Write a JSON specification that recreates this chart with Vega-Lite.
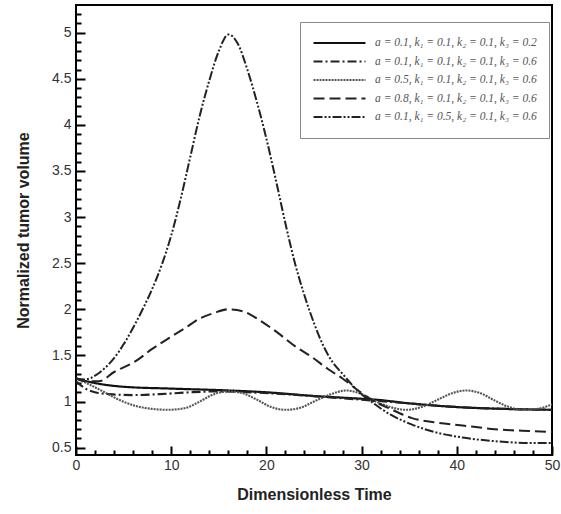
{
  "$schema": "https://vega.github.io/schema/vega-lite/v6.json",
  "width": 476,
  "height": 450,
  "autosize": {"type": "none"},
  "padding": {"left": 76, "top": 5, "right": 9, "bottom": 59},
  "background": "white",
  "config": {
    "view": {"stroke": "black", "strokeWidth": 2},
    "font": "Liberation Sans"
  },
  "data": {"values": [
    {"s": "A", "t": 0, "v": 1.25}, {"s": "A", "t": 2, "v": 1.2}, {"s": "A", "t": 5, "v": 1.16}, {"s": "A", "t": 10, "v": 1.14},
    {"s": "A", "t": 16, "v": 1.12}, {"s": "A", "t": 20, "v": 1.1}, {"s": "A", "t": 25, "v": 1.06}, {"s": "A", "t": 30, "v": 1.03},
    {"s": "A", "t": 31.5, "v": 1.02}, {"s": "A", "t": 35, "v": 0.98}, {"s": "A", "t": 40, "v": 0.94}, {"s": "A", "t": 45, "v": 0.92},
    {"s": "A", "t": 50, "v": 0.91},
    {"s": "B", "t": 0, "v": 1.22}, {"s": "B", "t": 1, "v": 1.14}, {"s": "B", "t": 2, "v": 1.1}, {"s": "B", "t": 3.5, "v": 1.08},
    {"s": "B", "t": 6, "v": 1.07}, {"s": "B", "t": 8.8, "v": 1.08}, {"s": "B", "t": 12, "v": 1.1}, {"s": "B", "t": 15, "v": 1.11},
    {"s": "B", "t": 18, "v": 1.1}, {"s": "B", "t": 22, "v": 1.08}, {"s": "B", "t": 26, "v": 1.05}, {"s": "B", "t": 30, "v": 1.02},
    {"s": "B", "t": 35, "v": 0.98}, {"s": "B", "t": 40, "v": 0.94}, {"s": "B", "t": 45, "v": 0.92}, {"s": "B", "t": 50, "v": 0.91},
    {"s": "C", "t": 0, "v": 1.25}, {"s": "C", "t": 1.5, "v": 1.18}, {"s": "C", "t": 3, "v": 1.1}, {"s": "C", "t": 4.5, "v": 1.02},
    {"s": "C", "t": 6, "v": 0.96}, {"s": "C", "t": 8, "v": 0.92}, {"s": "C", "t": 9.7, "v": 0.91}, {"s": "C", "t": 11.5, "v": 0.93},
    {"s": "C", "t": 13, "v": 1.0}, {"s": "C", "t": 14.5, "v": 1.08}, {"s": "C", "t": 16, "v": 1.11}, {"s": "C", "t": 17.5, "v": 1.09},
    {"s": "C", "t": 19, "v": 1.02}, {"s": "C", "t": 20.5, "v": 0.94}, {"s": "C", "t": 22, "v": 0.91}, {"s": "C", "t": 23.5, "v": 0.93},
    {"s": "C", "t": 25, "v": 1.0}, {"s": "C", "t": 26.8, "v": 1.08}, {"s": "C", "t": 28.4, "v": 1.12}, {"s": "C", "t": 30, "v": 1.08},
    {"s": "C", "t": 31.5, "v": 1.0}, {"s": "C", "t": 33, "v": 0.94}, {"s": "C", "t": 34.7, "v": 0.91}, {"s": "C", "t": 36.3, "v": 0.94},
    {"s": "C", "t": 38, "v": 1.02}, {"s": "C", "t": 39.5, "v": 1.09}, {"s": "C", "t": 41, "v": 1.12}, {"s": "C", "t": 42.5, "v": 1.09},
    {"s": "C", "t": 44, "v": 1.01}, {"s": "C", "t": 45.5, "v": 0.94}, {"s": "C", "t": 47, "v": 0.91}, {"s": "C", "t": 48.5, "v": 0.92},
    {"s": "C", "t": 50, "v": 0.97},
    {"s": "D", "t": 0, "v": 1.25}, {"s": "D", "t": 1, "v": 1.22}, {"s": "D", "t": 2.4, "v": 1.22}, {"s": "D", "t": 4, "v": 1.32},
    {"s": "D", "t": 6.3, "v": 1.44}, {"s": "D", "t": 8, "v": 1.57}, {"s": "D", "t": 9.8, "v": 1.69}, {"s": "D", "t": 11.5, "v": 1.8},
    {"s": "D", "t": 13, "v": 1.9}, {"s": "D", "t": 14.5, "v": 1.96}, {"s": "D", "t": 16, "v": 2.0}, {"s": "D", "t": 17.5, "v": 1.98},
    {"s": "D", "t": 19, "v": 1.9}, {"s": "D", "t": 21, "v": 1.76}, {"s": "D", "t": 23, "v": 1.6}, {"s": "D", "t": 24.8, "v": 1.48},
    {"s": "D", "t": 26.5, "v": 1.35}, {"s": "D", "t": 28, "v": 1.25}, {"s": "D", "t": 29.5, "v": 1.13}, {"s": "D", "t": 31, "v": 1.02},
    {"s": "D", "t": 33, "v": 0.92}, {"s": "D", "t": 35.3, "v": 0.82}, {"s": "D", "t": 38, "v": 0.77}, {"s": "D", "t": 40.6, "v": 0.74},
    {"s": "D", "t": 44, "v": 0.7}, {"s": "D", "t": 47.6, "v": 0.68}, {"s": "D", "t": 50, "v": 0.67},
    {"s": "E", "t": 0, "v": 1.25}, {"s": "E", "t": 1, "v": 1.24}, {"s": "E", "t": 2, "v": 1.28}, {"s": "E", "t": 3, "v": 1.36},
    {"s": "E", "t": 4, "v": 1.47}, {"s": "E", "t": 5, "v": 1.62}, {"s": "E", "t": 6, "v": 1.8}, {"s": "E", "t": 7, "v": 2.0},
    {"s": "E", "t": 8, "v": 2.22}, {"s": "E", "t": 9, "v": 2.48}, {"s": "E", "t": 10, "v": 2.8}, {"s": "E", "t": 11, "v": 3.2},
    {"s": "E", "t": 12, "v": 3.65}, {"s": "E", "t": 13, "v": 4.1}, {"s": "E", "t": 14, "v": 4.48}, {"s": "E", "t": 15, "v": 4.8},
    {"s": "E", "t": 16, "v": 4.98}, {"s": "E", "t": 17, "v": 4.88}, {"s": "E", "t": 18, "v": 4.6}, {"s": "E", "t": 19, "v": 4.25},
    {"s": "E", "t": 20, "v": 3.85}, {"s": "E", "t": 21, "v": 3.4}, {"s": "E", "t": 22, "v": 2.93}, {"s": "E", "t": 23, "v": 2.5},
    {"s": "E", "t": 24, "v": 2.15}, {"s": "E", "t": 25, "v": 1.85}, {"s": "E", "t": 26, "v": 1.6}, {"s": "E", "t": 27, "v": 1.42},
    {"s": "E", "t": 28, "v": 1.3}, {"s": "E", "t": 29, "v": 1.18}, {"s": "E", "t": 30, "v": 1.08}, {"s": "E", "t": 31, "v": 1.0},
    {"s": "E", "t": 33, "v": 0.86}, {"s": "E", "t": 35.3, "v": 0.75}, {"s": "E", "t": 38, "v": 0.66}, {"s": "E", "t": 40.6, "v": 0.61},
    {"s": "E", "t": 44, "v": 0.57}, {"s": "E", "t": 47.6, "v": 0.55}, {"s": "E", "t": 50, "v": 0.55}
  ]},
  "mark": {"type": "line", "interpolate": "monotone", "clip": true},
  "encoding": {
    "x": {
      "field": "t", "type": "quantitative",
      "scale": {"domain": [0, 50], "nice": false, "zero": false},
      "axis": {
        "title": "Dimensionless Time",
        "titleFontSize": 16, "titleFontWeight": "bold", "titleColor": "#222", "titlePadding": 14,
        "values": [0, 2, 4, 6, 8, 10, 12, 14, 16, 18, 20, 22, 24, 26, 28, 30, 32, 34, 36, 38, 40, 42, 44, 46, 48, 50],
        "labelExpr": "datum.value % 10 === 0 ? datum.label : ''",
        "labelFontSize": 14, "labelColor": "#333", "labelPadding": 12, "labelFlush": false,
        "tickSize": {"condition": {"test": "datum.value % 10 === 0", "value": -9}, "value": -5},
        "tickColor": "black", "tickWidth": 2, "domain": false, "grid": false
      }
    },
    "y": {
      "field": "v", "type": "quantitative",
      "scale": {"domain": [0.42, 5.3], "nice": false, "zero": false},
      "axis": {
        "title": "Normalized tumor volume",
        "titleFontSize": 16, "titleFontWeight": "bold", "titleColor": "#222", "titlePadding": 20,
        "values": [0.5, 0.6, 0.7, 0.8, 0.9, 1, 1.1, 1.2, 1.3, 1.4, 1.5, 1.6, 1.7, 1.8, 1.9, 2, 2.1, 2.2, 2.3, 2.4, 2.5, 2.6, 2.7, 2.8, 2.9, 3, 3.1, 3.2, 3.3, 3.4, 3.5, 3.6, 3.7, 3.8, 3.9, 4, 4.1, 4.2, 4.3, 4.4, 4.5, 4.6, 4.7, 4.8, 4.9, 5, 5.1, 5.2],
        "format": "~g",
        "labelExpr": "round(datum.value * 10) % 5 === 0 ? datum.label : ''",
        "labelFontSize": 14, "labelColor": "#333", "labelPadding": 14,
        "tickSize": {"condition": {"test": "round(datum.value * 10) % 5 === 0", "value": -9}, "value": -5},
        "tickColor": "black", "tickWidth": 2, "domain": false, "grid": false
      }
    },
    "strokeDash": {
      "field": "s", "type": "nominal",
      "scale": {"domain": ["A", "B", "C", "D", "E"], "range": [[1, 0], [9, 3, 2, 3], [2, 1], [11, 5], [9, 2, 2, 2, 2, 2]]},
      "legend": {
        "title": null, "orient": "none", "legendX": 224, "legendY": 17,
        "labelExpr": "{'A': 'a = 0.1, k\u2081 = 0.1, k\u2082 = 0.1, k\u2083 = 0.2', 'B': 'a = 0.1, k\u2081 = 0.1, k\u2082 = 0.1, k\u2083 = 0.6', 'C': 'a = 0.5, k\u2081 = 0.1, k\u2082 = 0.1, k\u2083 = 0.6', 'D': 'a = 0.8, k\u2081 = 0.1, k\u2082 = 0.1, k\u2083 = 0.6', 'E': 'a = 0.1, k\u2081 = 0.5, k\u2082 = 0.1, k\u2083 = 0.6'}[datum.value]",
        "symbolType": "stroke", "symbolSize": 2700,
        "labelFont": "Liberation Serif", "labelFontStyle": "italic", "labelFontSize": 11.5, "labelColor": "#555", "labelOffset": 8, "labelLimit": 400,
        "fillColor": "white", "strokeColor": "#888", "padding": 12, "rowPadding": 0.5, "clipHeight": 18
      }
    },
    "strokeWidth": {
      "field": "s", "type": "nominal",
      "scale": {"domain": ["A", "B", "C", "D", "E"], "range": [2.2, 2, 1.2, 2.6, 2.2]}
    },
    "color": {
      "field": "s", "type": "nominal",
      "scale": {"domain": ["A", "B", "C", "D", "E"], "range": ["#111", "#222", "#555", "#222", "#222"]}
    },
    "order": {"field": "t", "type": "quantitative"}
  }
}
